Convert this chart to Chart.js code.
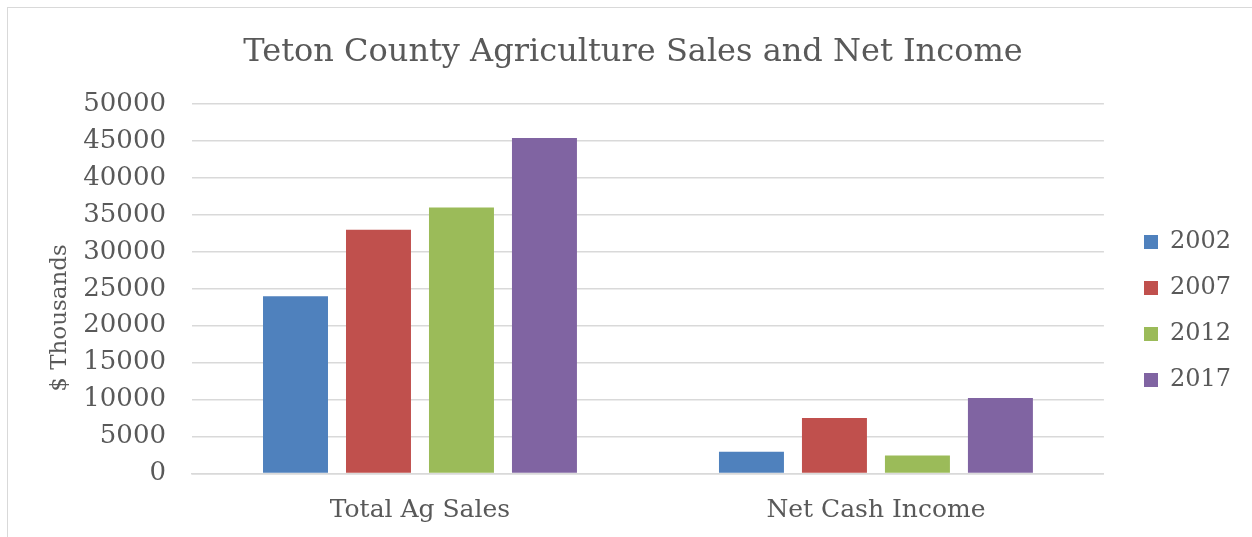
<!DOCTYPE html>
<html>
<head>
<meta charset="utf-8">
<script src="https://cdn.jsdelivr.net/npm/chart.js@4/dist/chart.umd.min.js"></script>
<style>
  html, body { margin: 0; padding: 0; background: #fff; }
  #wrap { position: relative; width: 1252px; height: 537px; overflow: hidden; }
  #frame { position: absolute; left: 7px; top: 7px; width: 1400px; height: 700px; border: 1px solid #d9d9d9; box-sizing: border-box; }
  canvas { position: absolute; left: 0; top: 0; }
</style>
</head>
<body>
<div id="wrap">
  <div id="frame"></div>
  <canvas id="agChart" width="1252" height="537"></canvas>
</div>
<script>
// Teton County farm figures, $ thousands
const categories = ["Total Ag Sales", "Net Cash Income"];
const years = ["2002", "2007", "2012", "2017"];
const sales2002 = [24000, 2950];
const sales2007 = [33000, 7500];
const sales2012 = [36000, 2450];
const sales2017 = [45400, 10200];
const yTicks = [0, 5000, 10000, 15000, 20000, 25000, 30000, 35000, 40000, 45000, 50000];
const yTitle = "$ Thousands";

const colors = ["#4F81BD", "#C0504D", "#9BBB59", "#8064A2"];
const values = [sales2002, sales2007, sales2012, sales2017];
const serif = "'DejaVu Serif', 'Liberation Serif', serif";
const textColor = "#595959";

// move the legend a bit right/down of where chart.js puts it
const legendShift = {
  id: "legendShift",
  afterLayout(chart) {
    const lg = chart.legend;
    const dx = 1144 - (lg.left + lg.options.labels.padding);
    lg.left += dx;
    lg.right += dx;
    lg.top += 37;
    lg.bottom += 37;
  }
};

// y axis caption, drawn by hand so it can sit lower than the plot centre
const yCaption = {
  id: "yCaption",
  afterDraw(chart) {
    const c = chart.ctx;
    c.save();
    c.translate(60, 318);
    c.rotate(-Math.PI / 2);
    c.fillStyle = textColor;
    c.font = "23px " + serif;
    c.textAlign = "center";
    c.textBaseline = "middle";
    c.fillText(yTitle, 0, 0);
    c.restore();
  }
};

let ctx = document.getElementById("agChart").getContext("2d");
new Chart(ctx, {
    type: "bar",
    data: {
        labels: categories,
        datasets: years.map((y, i) => ({
            label: y,
            data: values[i],
            backgroundColor: colors[i],
            categoryPercentage: 0.728,
            barPercentage: 0.783
        }))
    },
    options: {
        responsive: false,
        animation: false,
        layout: { padding: { left: 43, right: 29, top: 11, bottom: 0 } },
        plugins: {
            title: {
                display: true,
                text: "Teton County Agriculture Sales and Net Income",
                color: textColor,
                font: { family: serif, size: 32, weight: "normal" },
                padding: { top: 22, bottom: 32.6 }
            },
            legend: {
                position: "right",
                labels: {
                    color: textColor,
                    font: { family: serif, size: 24 },
                    boxWidth: 14,
                    boxHeight: 14,
                    padding: 22
                }
            },
            tooltip: { enabled: false }
        },
        scales: {
            x: {
                afterFit(scale) { scale.height = 63.5; },
                grid: { display: false },
                border: { color: "#d9d9d9", width: 1.5 },
                ticks: { color: textColor, font: { family: serif, size: 25 }, padding: 14 }
            },
            y: {
                min: 0,
                max: 50000,
                afterFit(scale) { scale.width = 149; },
                afterBuildTicks(scale) { scale.ticks = yTicks.map(v => ({ value: v })); },
                grid: { color: "#d9d9d9", lineWidth: 1.5, drawTicks: false },
                border: { display: false },
                ticks: {
                    color: textColor,
                    font: { family: serif, size: 26 },
                    padding: 26,
                    callback: v => String(v)
                }
            }
        }
    },
    plugins: [legendShift, yCaption]
});
</script>
</body>
</html>
